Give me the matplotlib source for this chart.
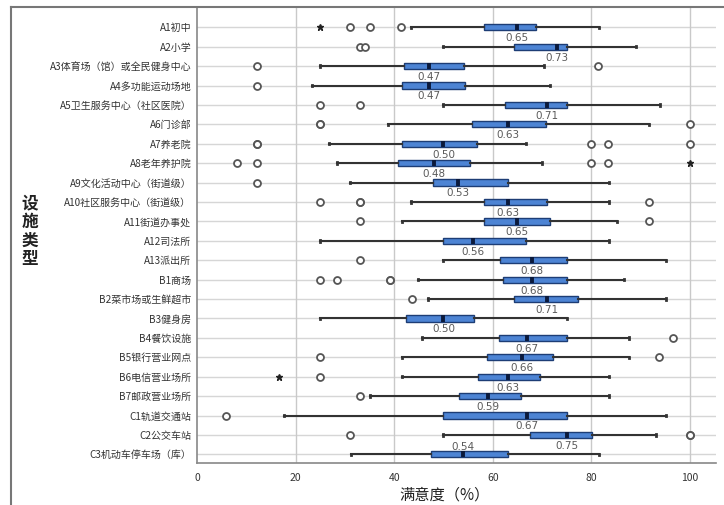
import matplotlib
matplotlib.use("Agg")
import matplotlib.pyplot as plt
from matplotlib.lines import Line2D
import numpy as np

plt.rcParams['font.family'] = ['Noto Sans CJK SC', 'DejaVu Sans']

categories = [
    "A1初中", "A2小学", "A3体育场（馆）或全民健身中心", "A4多功能运动场地",
    "A5卫生服务中心（社区医院）", "A6门诊部", "A7养老院", "A8老年养护院",
    "A9文化活动中心（街道级）", "A10社区服务中心（街道级）", "A11街道办事处",
    "A12司法所", "A13派出所", "B1商场", "B2菜市场或生鲜超市", "B3健身房",
    "B4餐饮设施", "B5银行营业网点", "B6电信营业场所", "B7邮政营业场所",
    "C1轨道交通站", "C2公交车站", "C3机动车停车场（库）",
]

whisker_low = [43.5, 50, 25, 23.3, 50, 38.7, 26.7, 28.4, 31, 43.4, 41.5, 25,
               50, 44.8, 46.8, 25, 45.6, 41.5, 41.5, 35, 17.6, 50, 31.2]
q1 = [58.3, 64.3, 42, 41.5, 62.4, 55.7, 41.5, 40.7, 47.8, 58.3, 58.3, 50,
      61.4, 62, 64.3, 42.4, 61.2, 58.9, 57.1, 53.1, 50, 67.5, 47.5]
median = [65, 73, 47, 47, 71, 63, 50, 48, 53, 63, 65, 56,
          68, 68, 71, 50, 67, 66, 63, 59, 67, 75, 54]
q3 = [68.8, 75, 54.2, 54.4, 75, 70.9, 56.8, 55.3, 63, 71.1, 71.6, 66.7,
      75, 75, 77.4, 56.3, 75, 72.2, 69.5, 65.7, 75, 80.2, 63.2]
whisker_high = [81.5, 89.1, 70.4, 71.6, 94, 91.8, 66.7, 70, 83.5, 83.5, 85.2, 83.5,
                95.2, 86.6, 95.2, 75, 87.7, 87.7, 83.5, 83.5, 95.2, 93.1, 81.5]

# mild outliers (circles); repeated values are respondents sharing a score
outliers = [
    [31, 35, 41.3], [33, 34], [12.2, 81.3], [12.2], [25, 33], [25, 25, 100],
    [12.2, 12.2, 80, 83.4, 100], [8.1, 12.2, 80, 83.4], [12.2], [25, 33, 33, 91.8],
    [33, 91.8], [], [33], [25, 28.4, 39.2, 39.2], [43.6], [], [96.5], [25, 93.8],
    [25], [33], [5.8], [31, 100, 100], [],
]
# extreme outliers (stars)
extremes = [[25], [], [], [], [], [], [], [100], [], [], [], [], [], [], [], [],
            [], [], [16.6], [], [], [], []]

x_ticks = [0, 20, 40, 60, 80, 100]

fig = plt.figure(figsize=(7.24, 5.05), dpi=100)
ax = fig.add_axes([197 / 724, 1 - 463.3 / 505, 519 / 724, 456.6 / 505])

pos = np.arange(len(categories))

stats = []
for i in range(len(categories)):
    stats.append(dict(med=median[i], q1=q1[i], q3=q3[i],
                      whislo=whisker_low[i], whishi=whisker_high[i], fliers=[]))

ax.bxp(stats, positions=pos, vert=False, widths=0.32, capwidths=0.07,
       showfliers=False, patch_artist=True,
       boxprops=dict(facecolor='#4d84d4', edgecolor='#1d3d75', linewidth=1.0),
       medianprops=dict(color='#0b1a3c', linewidth=2.8),
       whiskerprops=dict(color='#333333', linewidth=1.5),
       capprops=dict(color='#333333', linewidth=2.0))

for i in range(len(categories)):
    for v in outliers[i]:
        ax.plot(v, pos[i], 'o', ms=5, mfc='white', mec='#555555', mew=1.3, zorder=4)
    for v in extremes[i]:
        ax.plot(v, pos[i], '*', ms=4.5, color='#222222', zorder=4)
    dy = -0.38 if i == len(categories) - 1 else 0.56
    ax.text(median[i], pos[i] + dy, f"{median[i] / 100:.2f}", ha='center', va='center',
            fontsize=7.5, color='#5a5a5a', family=['DejaVu Sans'])

ax.set_xlim(0, 105.3)
ax.set_ylim(22.46, -1.06)
ax.set_yticks(pos)
ax.set_yticklabels(categories, fontsize=7.2, color='#333333')
ax.set_xticks(x_ticks)
ax.set_xticklabels([str(t) for t in x_ticks], fontsize=7.5, color='#333333')
ax.tick_params(length=0, pad=4)
ax.tick_params(axis='x', pad=7)

for y in pos:
    ax.axhline(y, color='#d6d6d6', lw=1.0, zorder=0)
for x in x_ticks[1:]:
    ax.axvline(x, color='#c9c9c9', lw=1.0, zorder=0)

for s in ['top', 'right']:
    ax.spines[s].set_visible(False)
for s in ['left', 'bottom']:
    ax.spines[s].set_color('#888888')
    ax.spines[s].set_linewidth(1.2)

fig.text(445 / 724, 1 - 495 / 505, "满意度（%）", ha='center', va='center',
         fontsize=11, color='#222222', fontweight='medium')
fig.text(30 / 724, 1 - 231 / 505, "设\n施\n类\n型", ha='center', va='center',
         fontsize=12, color='#222222', linespacing=1.05, fontweight='bold')

# outer frame
fx = 11 / 724
fy = 1 - 6.7 / 505
fig.add_artist(Line2D([fx, fx], [0, fy], transform=fig.transFigure,
                      color='#777777', lw=1.5))
fig.add_artist(Line2D([fx, 1], [fy, fy], transform=fig.transFigure,
                      color='#777777', lw=1.5))

fig.savefig("out.png", dpi=100)
